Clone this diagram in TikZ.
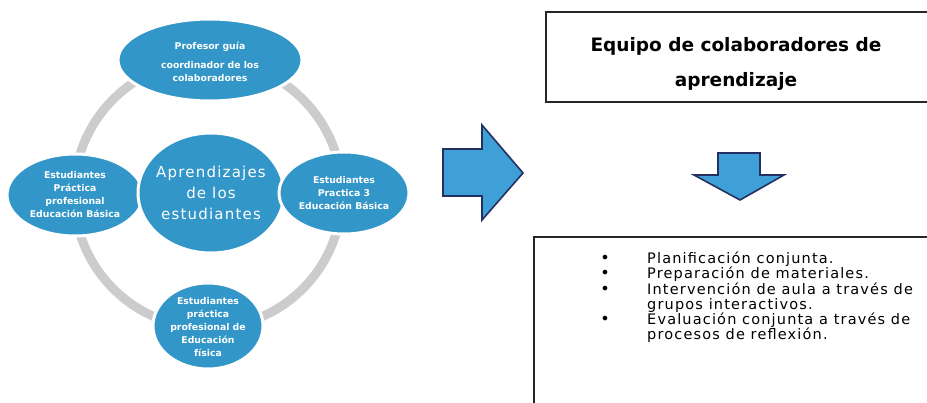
\documentclass[tikz,border=0pt]{standalone}
\usepackage{fontspec}
\setmainfont{DejaVu Sans}
\newfontfamily\bubblefont{DejaVu Sans}
\newfontfamily\centerfont[LetterSpace=8]{DejaVu Sans}
\newfontfamily\listfont[LetterSpace=8]{DejaVu Sans}
\usetikzlibrary{shapes.geometric}
\definecolor{bubble}{RGB}{50,150,200}
\definecolor{ringgray}{RGB}{204,204,204}
\definecolor{arrowblue}{RGB}{62,160,214}
\definecolor{arrowedge}{RGB}{38,48,96}
\tikzset{
  bubble/.style={ellipse, fill=bubble, draw=white, line width=3pt, inner sep=0pt},
  smalltext/.style={text=white, font=\bubblefont\bfseries\fontsize{9.3}{13}\selectfont, align=center, inner sep=0pt},
  bigtext/.style={text=white, font=\centerfont\fontsize{15}{21}\selectfont, align=center, inner sep=0pt},
  framed/.style={draw=black!85, line width=1.3pt},
  blockarrow/.style={fill=arrowblue, draw=arrowedge, line width=1.6pt, line join=miter},
  itemtext/.style={anchor=base west, inner sep=0pt, font=\listfont\fontsize{14.5}{15}\selectfont},
  dot/.style={anchor=base, inner sep=0pt, font=\fontsize{16}{15}\selectfont}
}
\begin{document}
\begin{tikzpicture}[x=1pt,y=-1pt]
\useasboundingbox[fill=white] (0,0) rectangle (927,403);

% gray cycle behind the bubbles
\draw[ringgray, line width=9pt] (208,194) circle[radius=134pt];

% bubbles
\node[bubble, minimum width=184pt, minimum height=82pt] (top) at (210,60) {};
\node[bubble, minimum width=136pt, minimum height=82pt] (left) at (75,195) {};
\node[bubble, minimum width=110pt, minimum height=86pt] (bottom) at (208,326) {};
\node[bubble, minimum width=146pt, minimum height=120pt] (center) at (211,193) {};
\node[bubble, minimum width=130pt, minimum height=82pt] (right) at (344,193) {};

\node[smalltext] (toptext) at ([yshift=-2pt]top.center) {Profesor guía\\[6pt]coordinador de los\\colaboradores};
\node[smalltext] (lefttext) at (left.center) {Estudiantes\\Práctica\\profesional\\Educación Básica};
\node[smalltext] (righttext) at (right.center) {Estudiantes\\Practica 3\\Educación Básica};
\node[smalltext] (bottomtext) at ([yshift=-1pt]bottom.center) {Estudiantes\\práctica\\profesional de\\Educación\\física};
\node[bigtext] (centertext) at (center.center) {Aprendizajes\\de los\\estudiantes};

% large arrow pointing right
\draw[blockarrow] (443,149) -- (482,149) -- (482,125) -- (523,173) -- (482,220)
  -- (482,196) -- (443,196) -- cycle;

% team box (open on the right)
\coordinate (boxTL) at (546,12);
\coordinate (boxBL) at (546,102);
\draw[framed] (927,12) -- (boxTL) -- (boxBL) -- (927,102);
\node[font=\bfseries\fontsize{18.5}{35}\selectfont, align=center, inner sep=0pt] (team) at (736,64)
  {Equipo de colaboradores de\\aprendizaje};

% small arrow pointing down
\draw[blockarrow] (718,153) -- (760,153) -- (760,175) -- (784,175) -- (740,200)
  -- (694,175) -- (718,175) -- cycle;

% task list box (open on the right and bottom)
\draw[framed] (927,237) -- (534,237) -- (534,403);

\node[dot] (d1) at (605,264) {•};
\node[dot] (d2) at (605,279) {•};
\node[dot] (d3) at (605,295) {•};
\node[dot] (d5) at (605,325) {•};
\node[itemtext] (i1) at (647,264) {Planificación conjunta.};
\node[itemtext] (i2) at (647,279) {Preparación de materiales.};
\node[itemtext] (i3) at (647,295) {Intervención de aula a través de};
\node[itemtext] (i4) at (647,310) {grupos interactivos.};
\node[itemtext] (i5) at (647,325) {Evaluación conjunta a través de};
\node[itemtext] (i6) at (647,340) {procesos de reflexión.};
\end{tikzpicture}
\end{document}
